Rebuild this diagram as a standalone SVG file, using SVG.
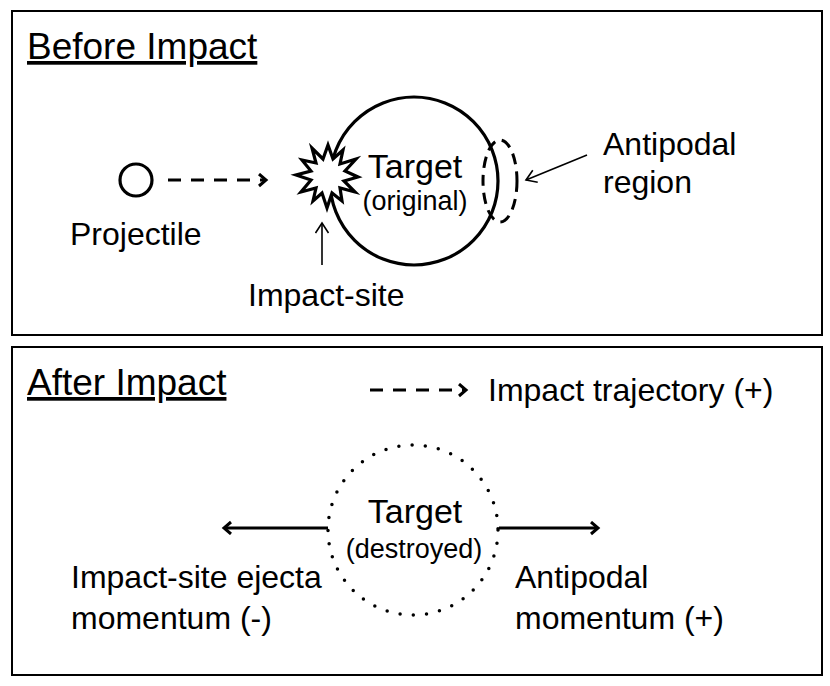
<svg xmlns="http://www.w3.org/2000/svg" width="830" height="686" viewBox="0 0 830 686">
<style>
text{font-family:"Liberation Sans",Arial,Helvetica,sans-serif;fill:#000}
.t{font-size:32px}
.title{font-size:37px;text-decoration:underline}
.big{font-size:34px}
.sm{font-size:27px}
.panel{fill:#fff;stroke:#000;stroke-width:2}
.thick{fill:none;stroke:#000;stroke-width:3.2}
.dash{fill:none;stroke:#000;stroke-width:3;stroke-dasharray:13 10}
.thin{fill:none;stroke:#000;stroke-width:1.6}
</style>
<defs>
<marker id="ah" markerUnits="userSpaceOnUse" markerWidth="16" markerHeight="16" refX="9" refY="7" orient="auto">
<path d="M2,1 L9,7 L2,13" fill="none" stroke="#000" stroke-width="3"/>
</marker>
<marker id="ahThin" markerUnits="userSpaceOnUse" markerWidth="16" markerHeight="16" refX="12" refY="7" orient="auto">
<path d="M2,0.5 L12,7 L2,13.5" fill="none" stroke="#000" stroke-width="1.6"/>
</marker>
</defs>
<rect width="830" height="686" fill="#fff"/>
<g id="panel-before">
<rect class="panel" x="12" y="11" width="810" height="324"/>
<text class="title" x="27" y="59">Before Impact</text>
</g>
<g id="panel-after">
<rect class="panel" x="12" y="347" width="810" height="328"/>
<text class="title" x="27" y="395">After Impact</text>
</g>
<g id="projectile">
<circle class="thick" cx="136" cy="180" r="16"/>
<text class="t" x="70" y="245">Projectile</text>
</g>
<g id="target-original">
<circle class="thick" cx="414" cy="181" r="84"/>
<text class="big" x="415" y="178" text-anchor="middle">Target</text>
<text class="sm" x="415" y="210" text-anchor="middle">(original)</text>
</g>
<g id="impact-site">
<polygon fill="#fff" stroke="#000" stroke-width="3.2" stroke-linejoin="miter" points="328,145 333,159 343,150 340,164 356,159 345,171 358,177 344,181 355,192 340,188 342,201 332,193 327,208 322,193 313,201 316,188 301,192 311,180 296,175 311,171 302,160 316,163 312,148 323,159"/>
<text class="t" x="248" y="306">Impact-site</text>
</g>
<g id="antipodal-region">
<ellipse cx="500" cy="181" rx="17" ry="41" fill="none" stroke="#000" stroke-width="3" stroke-dasharray="11 7"/>
<text class="t" x="603" y="155">Antipodal</text>
<text class="t" x="603" y="193">region</text>
</g>
<g id="target-destroyed">
<circle cx="413" cy="530" r="85" fill="none" stroke="#000" stroke-width="3.5" stroke-linecap="round" stroke-dasharray="0 13.3"/>
<text class="big" x="415" y="523" text-anchor="middle">Target</text>
<text class="sm" x="414" y="558" text-anchor="middle">(destroyed)</text>
</g>
<g id="legend">
<text class="t" x="488" y="401">Impact trajectory (+)</text>
</g>
<g id="ejecta-label">
<text class="t" x="71" y="588">Impact-site ejecta</text>
<text class="t" x="71" y="629">momentum (-)</text>
</g>
<g id="antipodal-label">
<text class="t" x="515" y="588">Antipodal</text>
<text class="t" x="515" y="629">momentum (+)</text>
</g>
<g id="connectors">
<line class="dash" x1="168" y1="180" x2="266" y2="180" marker-end="url(#ah)"/>
<line class="thin" x1="322" y1="265" x2="322" y2="223" marker-end="url(#ahThin)"/>
<line class="thin" x1="587" y1="155" x2="526" y2="180" marker-end="url(#ahThin)"/>
<line class="dash" x1="370" y1="390" x2="466" y2="390" marker-end="url(#ah)"/>
<line class="thick" x1="328" y1="528" x2="224" y2="528" marker-end="url(#ah)"/>
<line class="thick" x1="499" y1="528" x2="598" y2="528" marker-end="url(#ah)"/>
</g>
</svg>
